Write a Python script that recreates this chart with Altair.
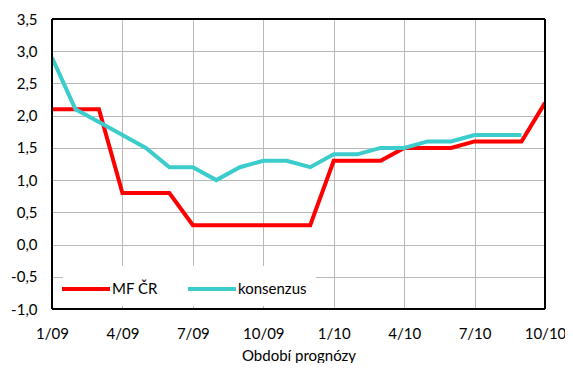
import altair as alt
import pandas as pd

months = ["1/09", "2/09", "3/09", "4/09", "5/09", "6/09", "7/09", "8/09", "9/09", "10/09", "11/09", "12/09",
          "1/10", "2/10", "3/10", "4/10", "5/10", "6/10", "7/10", "8/10", "9/10", "10/10"]
mf_cr = [2.1, 2.1, 2.1, 0.8, 0.8, 0.8, 0.3, 0.3, 0.3, 0.3, 0.3, 0.3,
         1.3, 1.3, 1.3, 1.5, 1.5, 1.5, 1.6, 1.6, 1.6, 2.2]
konsenzus = [2.9, 2.1, 1.9, 1.7, 1.5, 1.2, 1.2, 1.0, 1.2, 1.3, 1.3, 1.2,
             1.4, 1.4, 1.5, 1.5, 1.6, 1.6, 1.7, 1.7, 1.7]
tick_labels = ["1/09", "4/09", "7/09", "10/09", "1/10", "4/10", "7/10", "10/10"]
series_names = ["MF ČR", "konsenzus"]
y_ticks = [-1.0, -0.5, 0.0, 0.5, 1.0, 1.5, 2.0, 2.5, 3.0, 3.5]

rows = []
for i, v in enumerate(mf_cr):
    rows.append({"obdobi": months[i], "idx": i, "serie": series_names[0], "hodnota": v})
for i, v in enumerate(konsenzus):
    rows.append({"obdobi": months[i], "idx": i, "serie": series_names[1], "hodnota": v})
df = pd.DataFrame(rows)

tick_idx = [months.index(t) for t in tick_labels]
label_array = "[" + ",".join("'" + t + "'" for t in tick_labels) + "]"

FONT = "Lato"
W, H = 493, 290

lines = alt.Chart(df).mark_line(strokeWidth=4, strokeJoin="miter", clip=True).encode(
    x=alt.X("idx:Q", scale=alt.Scale(domain=[0, len(months) - 1], nice=False, zero=False),
            axis=alt.Axis(title="Období prognózy", values=tick_idx,
                          labelExpr=label_array + "[round(datum.value / 3)]",
                          grid=True, gridColor="#b8b8b8", gridWidth=1,
                          ticks=False, domain=False, labelPadding=17,
                          labelOverlap=False, labelBound=False, labelFlush=False,
                          labelFontSize=15, titleFontSize=15, titleFontWeight="normal",
                          titlePadding=7, labelColor="#000", titleColor="#000")),
    y=alt.Y("hodnota:Q", scale=alt.Scale(domain=[-1, 3.5], nice=False, zero=False),
            axis=alt.Axis(title=None, values=y_ticks, grid=True, gridColor="#b8b8b8", gridWidth=1,
                          ticks=False, domain=False, labelPadding=15, labelFontSize=15,
                          labelColor="#000", labelOverlap=False, labelBound=False, labelFlush=False,
                          labelExpr="(datum.value < 0 ? '-' : '') + replace(format(abs(datum.value), '.1f'), '.', ',')")),
    color=alt.Color("serie:N", sort=series_names,
                    scale=alt.Scale(domain=series_names, range=["#ff0000", "#3ccccc"]),
                    legend=alt.Legend(title=None, orient="none", legendX=11, legendY=247,
                                      direction="horizontal", fillColor="white", gridAlign="none",
                                      symbolType="M-2,0H2", symbolStrokeWidth=4, symbolSize=576,
                                      labelFontSize=15, labelColor="#000", padding=9,
                                      columnPadding=22, labelOffset=12)),
    order="idx:Q",
)

one = pd.DataFrame({"k": [0]})
frame = alt.Chart(one).mark_rule(color="#000", strokeWidth=2)
left = frame.encode(x=alt.value(0), y=alt.value(0), y2=alt.value(H))
right = frame.encode(x=alt.value(W), y=alt.value(0), y2=alt.value(H))
top = frame.encode(x=alt.value(0), x2=alt.value(W), y=alt.value(0))
bottom = frame.encode(x=alt.value(0), x2=alt.value(W), y=alt.value(H))

chart = alt.layer(lines, left, right, top, bottom).properties(
    width=W, height=H,
    autosize=alt.AutoSizeParams(type="none"),
    padding={"left": 44, "top": 11, "right": 20, "bottom": 54},
).configure(font=FONT).configure_view(strokeWidth=0)

chart.save("out.html", embed_options={"renderer": "svg", "actions": False})
